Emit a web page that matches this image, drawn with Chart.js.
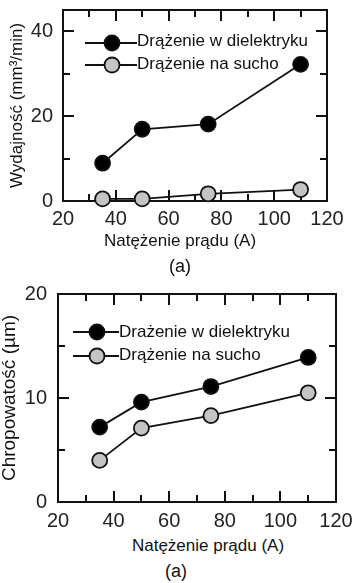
<!DOCTYPE html>
<html>
<head>
<meta charset="utf-8">
<script src="https://cdn.jsdelivr.net/npm/chart.js"></script>
<style>
  html, body { margin: 0; padding: 0; background: #fff; }
  body { width: 358px; height: 583px; position: relative; overflow: hidden;
         font-family: "Liberation Sans", Arial, sans-serif; color: #111; }
  canvas { position: absolute; left: 0; }
  .lbl { position: absolute; white-space: nowrap; line-height: 1;
         transform: translate(-50%, -50%); }
</style>
</head>
<body>
<canvas id="rateChart" width="358" height="250" style="top:0"></canvas>
<canvas id="roughChart" width="358" height="250" style="top:280px"></canvas>

<div class="lbl" style="left:180px; top:240px; font-size:17px;">Natężenie prądu (A)</div>
<div class="lbl" style="left:180px; top:266px; font-size:18px;">(a)</div>
<div class="lbl" style="left:208px; top:545px; font-size:17px;">Natężenie prądu (A)</div>
<div class="lbl" style="left:176px; top:571px; font-size:18px;">(a)</div>

<script>
// ======= DATA =======
const currents = [35, 50, 75, 110];            // A
const rateDielectric = [8.9, 16.9, 18.1, 32.2]; // mm3/min
const rateDry = [0.5, 0.5, 1.7, 2.7];
const roughDielectric = [7.2, 9.6, 11.1, 13.9]; // um
const roughDry = [4.0, 7.1, 8.3, 10.5];

const xTicks = [20, 40, 60, 80, 100, 120];
const rateTicks = [0, 20, 40];
const roughTicks = [0, 10, 20];

const rateLabels = ["Drążenie w dielektryku", "Drążenie na sucho"];
const roughLabels = ["Drażenie w dielektryku", "Drążenie na sucho"];

const FONT = '"Liberation Sans", Arial, sans-serif';

function pts(xs, ys) {
  return xs.map((x, i) => ({ x: x, y: ys[i] }));
}

// frame + inward ticks (before datasets), line+marker legend (after)
function decor(f, l) {
  return {
    id: 'decor',
    beforeDatasetsDraw(chart) {
      const ctx = chart.ctx;
      const a = chart.chartArea;
      const L = Math.round(a.left), R = Math.round(a.right);
      const T = Math.round(a.top), B = Math.round(a.bottom);
      ctx.save();
      ctx.fillStyle = '#111';
      ctx.fillRect(L - 1, T - 1, R - L + 2, 2);
      ctx.fillRect(L - 1, B - 1, R - L + 2, 2);
      ctx.fillRect(L - 1, T - 1, 2, B - T + 2);
      ctx.fillRect(R - 1, T - 1, 2, B - T + 2);
      // ticks placed along the chart area, same range as the scales
      const x0 = Number(chart.options.scales.x.min), x1 = Number(chart.options.scales.x.max);
      const y1 = Number(chart.options.scales.y.max);
      for (let v = x0; v <= x1; v += f.xMinor) {
        const px = Math.round(L + (v - x0) / (x1 - x0) * (R - L));
        const len = (v % f.xMajor === 0) ? 11 : 7;
        ctx.fillRect(px - 1, B - len, 2, len);
        ctx.fillRect(px - 1, T, 2, len);
      }
      for (let v = 0; v <= f.yMax; v += f.yMinor) {
        const py = Math.round(B - v / y1 * (B - T));
        const len = (v % f.yMajor === 0) ? 11 : 7;
        ctx.fillRect(L, py - 1, len, 2);
        ctx.fillRect(R - len, py - 1, len, 2);
      }
      ctx.restore();
    },
    afterDraw(chart) {
      const ctx = chart.ctx;
      ctx.save();
      chart.data.datasets.forEach((ds, i) => {
        const yy = l.ys[i];
        ctx.strokeStyle = '#111';
        ctx.lineWidth = 1.8;
        ctx.beginPath();
        ctx.moveTo(l.x0, yy); ctx.lineTo(l.x1, yy);
        ctx.stroke();
        ctx.beginPath();
        ctx.arc(l.xm, yy, 7.5, 0, Math.PI * 2);
        ctx.fillStyle = ds.pointBackgroundColor;
        ctx.fill();
        ctx.stroke();
        ctx.fillStyle = '#111';
        ctx.font = '17px ' + FONT;
        ctx.textBaseline = 'middle';
        ctx.fillText(ds.label, l.xt, l.ty[i]);
      });
      ctx.restore();
    }
  };
}

function makeSeries(label, data, fill) {
  return {
    label: label,
    data: data,
    borderColor: '#111',
    borderWidth: 1.8,
    pointRadius: 7.5,
    pointBackgroundColor: fill,
    pointBorderColor: '#111',
    pointBorderWidth: 1.8,
    clip: false
  };
}

function makeChart(id, cfg) {
  return new Chart(document.getElementById(id), {
    type: 'line',
    data: {
      datasets: [
        makeSeries(cfg.labels[0], pts(currents, cfg.a), '#000'),
        makeSeries(cfg.labels[1], pts(currents, cfg.b), '#c4c4c4')
      ]
    },
    options: {
      responsive: false,
      animation: false,
      devicePixelRatio: 1,
      layout: { padding: { top: cfg.top, right: cfg.right, left: 0, bottom: 0 } },
      plugins: {
        legend: { display: false },
        tooltip: { enabled: false }
      },
      scales: {
        x: {
          type: 'linear', min: 20, max: 120,
          grid: { display: false, drawTicks: false },
          border: { display: false },
          afterBuildTicks: s => { s.ticks = xTicks.map(v => ({ value: v })); },
          afterFit: s => { s.height = cfg.xh; s.paddingLeft = 0; s.paddingRight = 0; },
          ticks: { color: '#222', padding: cfg.xpad, maxRotation: 0,
                   font: { family: FONT, size: 20 } }
        },
        y: {
          type: 'linear', min: 0, max: cfg.ymax,
          grid: { display: false, drawTicks: false },
          border: { display: false },
          afterBuildTicks: s => { s.ticks = cfg.yticks.map(v => ({ value: v })); },
          afterFit: s => { s.width = cfg.yw; s.paddingTop = 0; s.paddingBottom = 0; },
          ticks: { color: '#222', padding: cfg.ypad,
                   font: { family: FONT, size: 20 } },
          title: { display: true, text: cfg.ytitle, color: '#111',
                   padding: { top: cfg.ytpad, bottom: 0 },
                   font: { family: FONT, size: cfg.ytsize, lineHeight: 1 } }
        }
      }
    },
    plugins: [decor(cfg.frame, cfg.legend)]
  });
}

makeChart('rateChart', {
  labels: rateLabels, a: rateDielectric, b: rateDry,
  top: 10, right: 31, xh: 49, yw: 63, xpad: 6, ypad: 10,
  ymax: 45, yticks: rateTicks,
  ytitle: 'Wydajność (mm³/min)', ytsize: 17, ytpad: 9,
  frame: { xMinor: 10, xMajor: 20, yMinor: 10, yMajor: 20, yMax: 40 },
  legend: { x0: 85, x1: 137, xm: 112, xt: 137, ys: [43, 65], ty: [41, 64] }
});

makeChart('roughChart', {
  labels: roughLabels, a: roughDielectric, b: roughDry,
  top: 14, right: 22, xh: 28, yw: 58, xpad: 7, ypad: 11,
  ymax: 20, yticks: roughTicks,
  ytitle: 'Chropowatość (µm)', ytsize: 19, ytpad: 0,
  frame: { xMinor: 10, xMajor: 20, yMinor: 5, yMajor: 10, yMax: 20 },
  legend: { x0: 73, x1: 119, xm: 97, xt: 119, ys: [52, 76], ty: [52, 75] }
});
</script>
</body>
</html>
